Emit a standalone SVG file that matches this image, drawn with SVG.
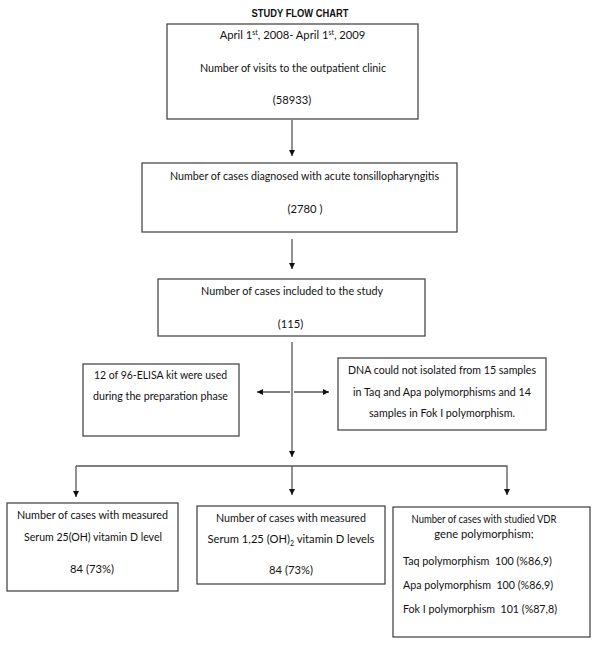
<svg xmlns="http://www.w3.org/2000/svg" width="600" height="647" viewBox="0 0 600 647">
<style>
.box{fill:#fff;stroke:#3a3a3a;stroke-width:1.2}
.t{font-family:Lato,"Open Sans","Liberation Sans",sans-serif;font-size:11.2px;fill:#111;text-anchor:middle}
.tl{font-family:Lato,"Open Sans","Liberation Sans",sans-serif;font-size:11.2px;fill:#111}
.title{font-family:"Liberation Sans",Arial,sans-serif;font-size:10.5px;font-weight:bold;fill:#111;text-anchor:middle}
.c{stroke:#555;stroke-width:1.3;fill:none}
.sup{font-size:7px}
</style>
<defs>
<marker id="ah" viewBox="0 0 8 8" refX="8" refY="4" markerWidth="6" markerHeight="6" markerUnits="userSpaceOnUse" orient="auto">
<path d="M0,0 L8,4 L0,8 Z" fill="#111"/>
</marker>
</defs>
<rect width="600" height="647" fill="#fff"/>
<text class="title" x="300" y="17" textLength="97" lengthAdjust="spacingAndGlyphs">STUDY FLOW CHART</text>

<g id="connectors">
<line class="c" x1="292" y1="120" x2="292" y2="156" marker-end="url(#ah)"/>
<line class="c" x1="292" y1="239" x2="292" y2="269" marker-end="url(#ah)"/>
<line class="c" x1="292" y1="342" x2="292" y2="457" marker-end="url(#ah)"/>
<line class="c" x1="290" y1="392" x2="257" y2="392" marker-end="url(#ah)"/>
<line class="c" x1="294" y1="392" x2="329" y2="392" marker-end="url(#ah)"/>
<polyline class="c" points="76,466 507,466 507,495" marker-end="url(#ah)"/>
<line class="c" x1="76" y1="466" x2="76" y2="497" marker-end="url(#ah)"/>
<line class="c" x1="292" y1="466" x2="292" y2="495" marker-end="url(#ah)"/>
</g>

<g id="n1">
<rect class="box" x="167" y="24" width="251" height="95"/>
<text class="t" x="292.5" y="39">April 1<tspan class="sup" dy="-4">st</tspan><tspan dy="4">, 2008- April 1</tspan><tspan class="sup" dy="-4">st</tspan><tspan dy="4">, 2009</tspan></text>
<text class="t" x="293" y="72" textLength="186" lengthAdjust="spacingAndGlyphs">Number of visits to the outpatient clinic</text>
<text class="t" x="292" y="104">(58933)</text>
</g>

<g id="n2">
<rect class="box" x="142" y="163" width="315" height="69"/>
<text class="t" x="304.5" y="180" textLength="269" lengthAdjust="spacingAndGlyphs">Number of cases diagnosed with acute tonsillopharyngitis</text>
<text class="t" x="305" y="213">(2780 )</text>
</g>

<g id="n3">
<rect class="box" x="158" y="279" width="267" height="57"/>
<text class="t" x="292" y="295" textLength="182" lengthAdjust="spacingAndGlyphs">Number of cases included to the study</text>
<text class="t" x="290.5" y="328">(115)</text>
</g>

<g id="n4">
<rect class="box" x="83" y="364" width="156" height="72"/>
<text class="t" x="160.5" y="379" textLength="133" lengthAdjust="spacingAndGlyphs">12 of 96-ELISA kit were used</text>
<text class="t" x="160.5" y="400" textLength="135" lengthAdjust="spacingAndGlyphs">during the preparation phase</text>
</g>

<g id="n5">
<rect class="box" x="338" y="358" width="208" height="72"/>
<text class="t" x="442" y="374" textLength="188" lengthAdjust="spacingAndGlyphs">DNA could not isolated from 15 samples</text>
<text class="t" x="442" y="396" textLength="178" lengthAdjust="spacingAndGlyphs">in Taq and Apa polymorphisms and 14</text>
<text class="t" x="442" y="417" textLength="146" lengthAdjust="spacingAndGlyphs">samples in Fok I polymorphism.</text>
</g>

<g id="n6">
<rect class="box" x="7" y="503" width="171" height="88"/>
<text class="t" x="92.5" y="519" textLength="151" lengthAdjust="spacingAndGlyphs">Number of cases with measured</text>
<text class="t" x="93" y="541" textLength="138" lengthAdjust="spacingAndGlyphs">Serum 25(OH) vitamin D level</text>
<text class="t" x="92" y="573">84 (73%)</text>
</g>

<g id="n7">
<rect class="box" x="197" y="506" width="188" height="78"/>
<text class="t" x="291" y="522" textLength="150" lengthAdjust="spacingAndGlyphs">Number of cases with measured</text>
<text class="t" x="291" y="543">Serum 1,25 (OH)<tspan class="sup" dy="2.5">2</tspan><tspan dy="-2.5"> vitamin D levels</tspan></text>
<text class="t" x="291" y="574">84 (73%)</text>
</g>

<g id="n8">
<rect class="box" x="393" y="507" width="197" height="130"/>
<text class="t" x="484" y="523" textLength="145" lengthAdjust="spacingAndGlyphs">Number of cases with studied VDR</text>
<text class="t" x="484" y="538">gene polymorphism;</text>
<text class="tl" x="403" y="565" xml:space="preserve" textLength="149" lengthAdjust="spacingAndGlyphs">Taq polymorphism  100 (%86,9)</text>
<text class="tl" x="403" y="589" xml:space="preserve" textLength="150" lengthAdjust="spacingAndGlyphs">Apa polymorphism  100 (%86,9)</text>
<text class="tl" x="403" y="613" xml:space="preserve" textLength="154" lengthAdjust="spacingAndGlyphs">Fok I polymorphism  101 (%87,8)</text>
</g>
</svg>
